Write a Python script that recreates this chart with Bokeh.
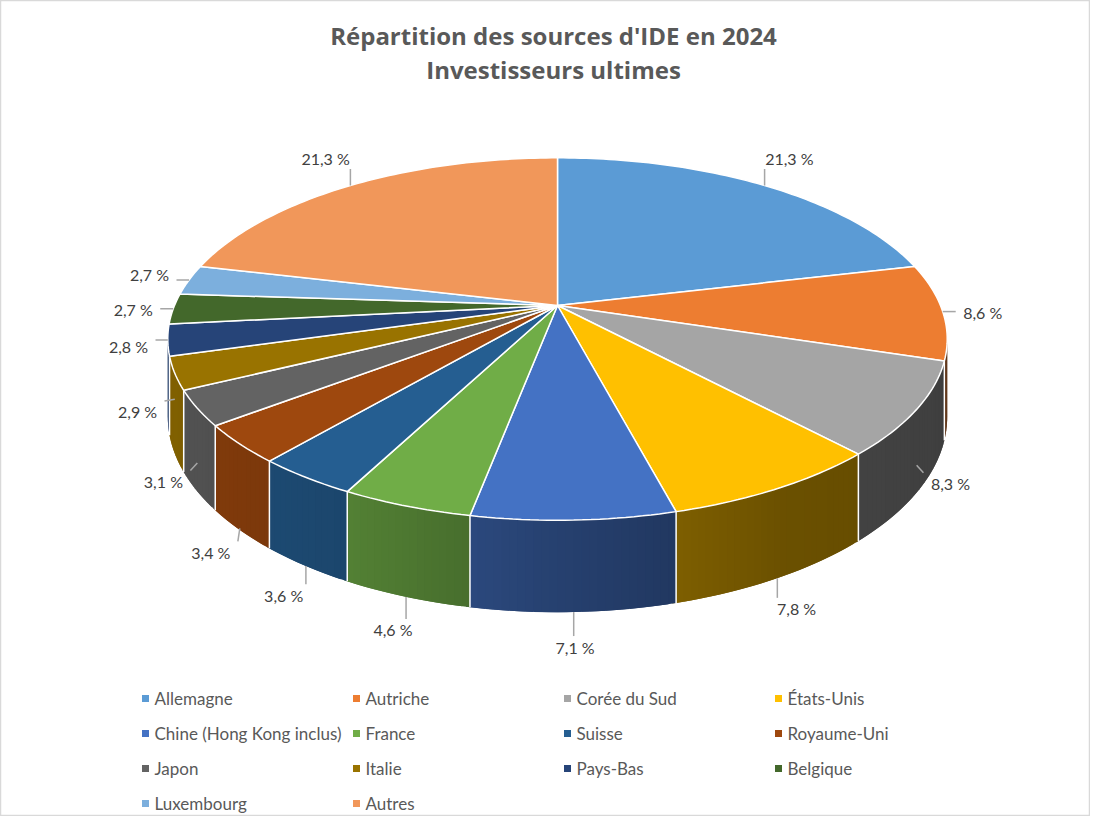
import numpy as np
from bokeh.plotting import figure
from bokeh.models import Range1d
from bokeh.core.properties import value
from bokeh.embed import file_html
from bokeh.resources import INLINE

# données
pays = ["Allemagne", "Autriche", "Corée du Sud", "États-Unis",
        "Chine (Hong Kong inclus)", "France", "Suisse", "Royaume-Uni",
        "Japon", "Italie", "Pays-Bas", "Belgique", "Luxembourg", "Autres"]
parts = [21.3, 8.6, 8.3, 7.8, 7.1, 4.6, 3.6, 3.4, 3.1, 2.9, 2.8, 2.7, 2.7, 21.3]
couleurs = ["#5B9BD5", "#ED7D31", "#A5A5A5", "#FFC000", "#4472C4", "#70AD47",
            "#255E91", "#9E480E", "#636363", "#997300", "#264478", "#43682B",
            "#7CAFDD", "#F1975A"]
titre = ["Répartition des sources d'IDE en 2024", "Investisseurs ultimes"]

FONT = "Lato"
GRIS = "#595959"
W, H = 1090, 816

p = figure(width=W, height=H, x_range=Range1d(0, W), y_range=Range1d(H, 0),
           output_backend="svg", toolbar_location=None,
           x_axis_type=None, y_axis_type=None, min_border=0)
p.grid.visible = False
p.outline_line_color = "#D9D9D9"
p.outline_line_width = 1.5

# géométrie du camembert 3D (pixels)
CX, CY = 557, 305
RX, RY = 383, 175
Q = 0.185   # perspective
EP = 75     # épaisseur


def proj(a):
    u, v = np.sin(a), np.cos(a)
    s = 1 / (1 + Q * v)
    return CX + RX * u * s, CY - RY * v * s, s


def shade(c, f):
    r, g, b = (int(c[i:i + 2], 16) for i in (1, 3, 5))
    return "#%02x%02x%02x" % (int(r * f), int(g * f), int(b * f))


frac = np.array(parts) / sum(parts)
bornes = np.concatenate([[0], np.cumsum(frac)]) * 2 * np.pi
lo = np.arccos(-Q)
hi = 2 * np.pi - lo

# flancs (bandes fines qui se chevauchent pour éviter les joints)
side_xs, side_ys, side_c = [], [], []
for i in range(len(parts)):
    a0, a1 = max(bornes[i], lo), min(bornes[i + 1], hi)
    if a1 <= a0:
        continue
    k = int(np.ceil((a1 - a0) / np.radians(1)))
    t = np.linspace(a0, a1, k + 1)
    for j in range(k):
        tb = t[min(j + 2, k)]
        if j == k - 1 and bornes[i + 1] < hi:
            tb = t[k] + np.radians(0.5)
        xa, ya, sa = proj(t[j])
        xb, yb, sb = proj(tb)
        side_xs.append([xa, xb, xb, xa])
        side_ys.append([ya, yb, yb + EP * sb, ya + EP * sa])
        f = np.interp(np.sin((t[j] + t[j + 1]) / 2),
                      [-1, -0.5, 0, 0.5, 1], [0.85, 0.76, 0.57, 0.42, 0.38])
        side_c.append(shade(couleurs[i], f))
p.patches(side_xs, side_ys, fill_color=side_c, line_color=None)

sx0, sy0, sx1, sy1 = [], [], [], []
for b in bornes[1:-1]:
    if lo < b < hi:
        x, y, s = proj(b)
        sx0.append(x); sy0.append(y); sx1.append(x); sy1.append(y + EP * s)
p.segment(sx0, sy0, sx1, sy1, line_color="white", line_width=1.5)

# dessus
top_xs, top_ys = [], []
for i in range(len(parts)):
    t = np.linspace(bornes[i], bornes[i + 1], max(3, int(frac[i] * 360)))
    x, y, _ = proj(t)
    top_xs.append([CX] + list(x))
    top_ys.append([CY] + list(y))
p.patches(top_xs, top_ys, fill_color=couleurs, line_color="white", line_width=1.5)

# étiquettes
lx, ly, lt = [], [], []
lead_x, lead_y = [], []
for i in range(len(parts)):
    m = (bornes[i] + bornes[i + 1]) / 2
    x, y, s = proj(m)
    h = np.clip((-np.cos(m) - 0.2) / 0.5, 0, 1)
    ax, ay = x, y + EP * s * h
    cx, cy = ax + np.sin(m) * 40, ay - np.cos(m) * 35
    txt = ("%.1f" % parts[i]).replace(".", ",") + " %"
    lx.append(cx); ly.append(cy); lt.append(txt)
    hw, hh = 27, 11
    nx = min(max(ax, cx - hw), cx + hw)
    ny = min(max(ay, cy - hh), cy + hh)
    if np.hypot(nx - ax, ny - ay) > 8:
        lead_x.append([ax, nx]); lead_y.append([ay, ny])
p.multi_line(lead_x, lead_y, line_color="#A6A6A6", line_width=1.5)
p.text(lx, ly, text=lt, text_font=value(FONT), text_font_size="16px",
       text_color="#404040", text_align="center", text_baseline="middle")

# titre
p.text([553, 553], [35, 69], text=titre, text_font=value("Open Sans"), text_font_size="24px",
       text_font_style="bold", text_color=GRIS, text_align="center", text_baseline="middle")

# légende
col = np.arange(len(pays)) % 4
row = np.arange(len(pays)) // 4
mx = 145 + 211 * col
my = 698 + 35 * row
p.scatter(mx, my, marker="square", size=7, fill_color=couleurs, line_color=None)
p.text(mx + 9, my, text=pays, text_font=value(FONT), text_font_size="17px",
       text_color=GRIS, text_align="left", text_baseline="middle")

open("out.html", "w", encoding="utf-8").write(file_html(p, INLINE, "IDE 2024"))
